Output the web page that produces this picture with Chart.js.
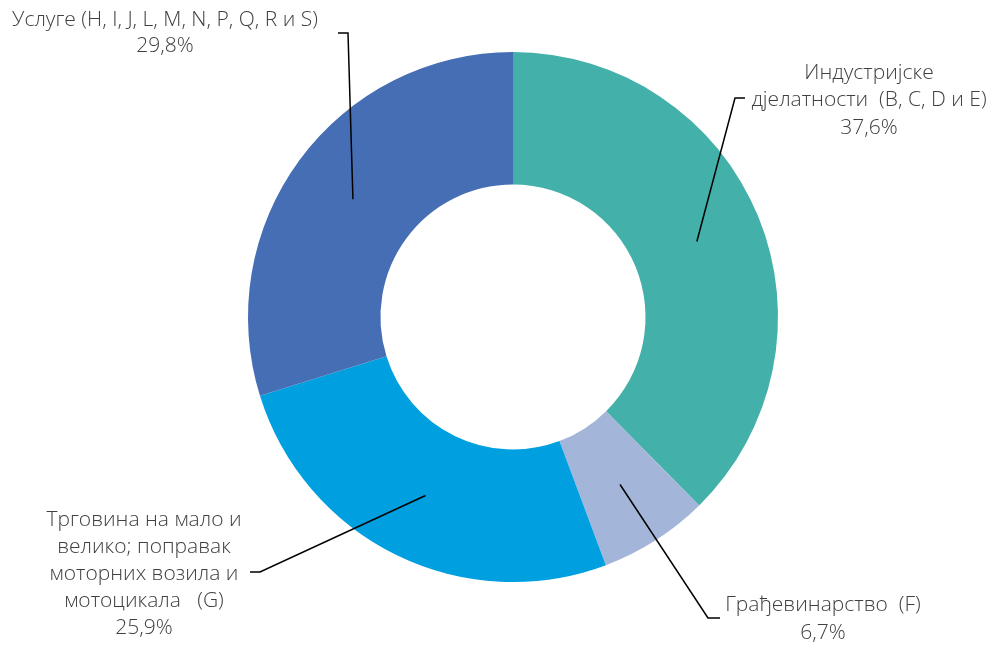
<!DOCTYPE html>
<html>
<head>
<meta charset="utf-8">
<script src="https://cdn.jsdelivr.net/npm/chart.js@4/dist/chart.umd.min.js"></script>
<style>
  html, body { margin: 0; padding: 0; background: #fff; }
  #wrap { width: 989px; height: 645px; position: relative; }
</style>
</head>
<body>
<div id="wrap"><canvas id="share-chart"></canvas></div>
<script>
const categories = [
    'Индустријске дјелатности (B, C, D и E)',
    'Грађевинарство (F)',
    'Трговина на мало и велико; поправак моторних возила и мотоцикала (G)',
    'Услуге (H, I, J, L, M, N, P, Q, R и S)'
];
const shares = [37.6, 6.7, 25.9, 29.8];
const labelLines = [
    ['Индустријске', 'дјелатности  (B, C, D и E)'],
    ['Грађевинарство  (F)'],
    ['Трговина на мало и', 'велико; поправак', 'моторних возила и', 'мотоцикала   (G)'],
    ['Услуге (H, I, J, L, M, N, P, Q, R и S)']
];
const sliceColors = ['#43B0AA', '#A3B5D9', '#009FE0', '#466EB4'];

// callout placement: text centre x, first line y, bend of the leader and its end by the text
const calloutLayout = [
    { x: 869, y: 73, pitch: 27.5, bend: [735, 98], end: [745, 98] },
    { x: 823, y: 605, pitch: 28, bend: [708, 618], end: [720, 618] },
    { x: 144, y: 520, pitch: 27, bend: [260, 572], end: [250, 572] },
    { x: 165, y: 20, pitch: 26, bend: [348, 33], end: [338, 33] }
];

function formatShare(v) {
    return v.toFixed(1).replace('.', ',') + '%';
}

const calloutPlugin = {
    id: 'callouts',
    afterDatasetsDraw(chart) {
        const ctx = chart.ctx;
        const arcs = chart.getDatasetMeta(0).data;
        ctx.save();
        arcs.forEach((arc, i) => {
            const lay = calloutLayout[i];
            const mid = arc.getCenterPoint();
            // leader line starts in the middle of the ring segment
            ctx.beginPath();
            ctx.strokeStyle = '#000';
            ctx.lineWidth = 1.5;
            ctx.moveTo(mid.x, mid.y);
            ctx.lineTo(lay.bend[0], lay.bend[1]);
            ctx.lineTo(lay.end[0], lay.end[1]);
            ctx.stroke();

            const lines = labelLines[i].concat(formatShare(shares[i]));
            ctx.fillStyle = '#404040';
            ctx.font = '300 21px "Open Sans"';
            ctx.textAlign = 'center';
            ctx.textBaseline = 'middle';
            lines.forEach((t, k) => ctx.fillText(t, lay.x, lay.y + k * lay.pitch));
        });
        ctx.restore();
    }
};

new Chart(document.getElementById('share-chart'), {
    type: 'doughnut',
    data: {
        labels: categories,
        datasets: [{
            data: shares,
            backgroundColor: sliceColors,
            borderWidth: 0
        }]
    },
    options: {
        responsive: true,
        maintainAspectRatio: false,
        animation: false,
        cutout: '50%',
        layout: { padding: { top: 52, bottom: 63, left: 248, right: 211 } },
        plugins: {
            legend: { display: false },
            tooltip: { enabled: false }
        }
    },
    plugins: [calloutPlugin]
});
</script>
</body>
</html>
